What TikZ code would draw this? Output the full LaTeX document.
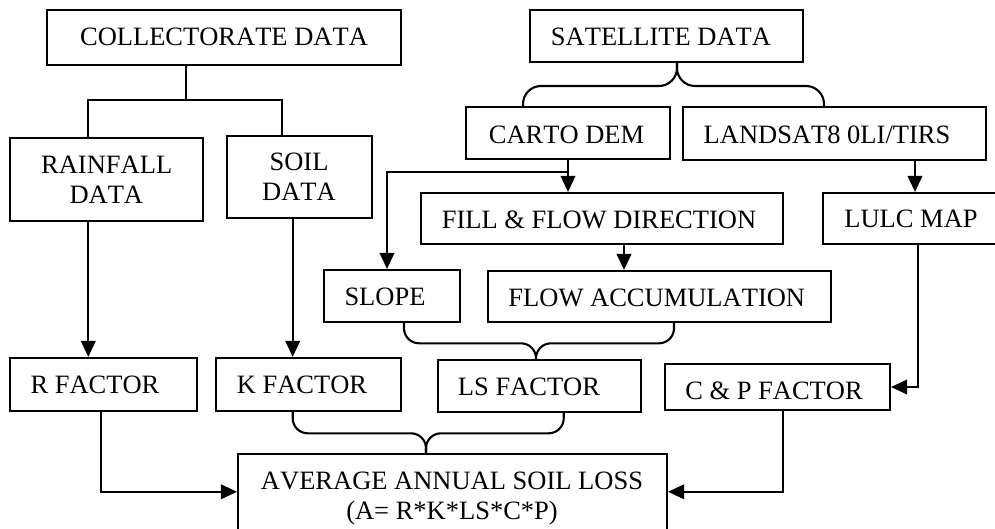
\documentclass[tikz,border=0pt]{standalone}
\usepackage{fontspec}
\setmainfont{Liberation Serif}[Kerning=Off]
\usetikzlibrary{arrows.meta,calc}

\begin{document}
\begin{tikzpicture}[x=1pt,y=-1pt,
  box/.style={draw, rectangle, inner sep=0pt, line width=2.1pt},
  lbl/.style={inner sep=0pt, anchor=base, font=\fontsize{26.5}{30}\selectfont},
  link/.style={line width=2.1pt},
  arr/.style={link, -{Triangle[length=16pt,width=14.5pt]}},
  brace/.style={link, rounded corners=15pt}]

\useasboundingbox (0,0) rectangle (995,529);

% ---------- boxes ----------
\node[box, minimum width=354pt, minimum height=55pt] (coll)  at (224,37.5) {};
\node[box, minimum width=193pt, minimum height=83pt] (rain)  at (106.5,179.5) {};
\node[box, minimum width=145pt, minimum height=82pt] (soil)  at (299.5,177) {};
\node[box, minimum width=273pt, minimum height=52pt] (sat)   at (666.5,36) {};
\node[box, minimum width=204pt, minimum height=52pt] (carto) at (568,133) {};
\node[box, minimum width=303pt, minimum height=53pt] (land)  at (834.5,133.5) {};
\node[box, minimum width=362pt, minimum height=51pt] (fill)  at (602,218.5) {};
\node[box, minimum width=177pt, minimum height=51pt] (lulc)  at (911.5,218.5) {};
\node[box, minimum width=136pt, minimum height=52pt] (slope) at (392,296) {};
\node[box, minimum width=343pt, minimum height=51pt] (flow)  at (659.5,296.5) {};
\node[box, minimum width=187pt, minimum height=53pt] (rfac)  at (103.5,384.5) {};
\node[box, minimum width=185pt, minimum height=53pt] (kfac)  at (308.5,384.5) {};
\node[box, minimum width=203pt, minimum height=52pt] (lsfac) at (539.5,386) {};
\node[box, minimum width=225pt, minimum height=46pt] (cpfac) at (777.5,387) {};
\node[box, minimum width=429pt, minimum height=106pt] (avg) at (452.5,507) {};

% ---------- labels ----------
\node[lbl] (collT)  at (224,46)     {COLLECTORATE DATA};
\node[lbl] (rainT)  at (106.7,173.3) {RAINFALL};
\node[lbl] (rainT2) at (106.3,204)   {DATA};
\node[lbl] (soilT)  at (299,171)     {SOIL};
\node[lbl] (soilT2) at (299,201)     {DATA};
\node[lbl] (satT)   at (661,46)      {SATELLITE DATA};
\node[lbl] (cartoT) at (566.5,143.3) {CARTO DEM};
\node[lbl] (landT)  at (827,143.3)   {LANDSAT8 0LI/TIRS};
\node[lbl] (fillT)  at (599,228.3)   {FILL \& FLOW DIRECTION};
\node[lbl] (lulcT)  at (911,227.7)   {LULC MAP};
\node[lbl] (slopeT) at (385,305.7)   {SLOPE};
\node[lbl] (flowT)  at (656.8,306)   {FLOW ACCUMULATION};
\node[lbl] (rfacT)  at (95,393.3)    {R FACTOR};
\node[lbl] (kfacT)  at (302,393.3)   {K FACTOR};
\node[lbl] (lsfacT) at (529,395.7)   {LS FACTOR};
\node[lbl] (cpfacT) at (774,399)     {C \& P FACTOR};
\node[lbl] (avgT)   at (452,489.3)   {AVERAGE ANNUAL SOIL LOSS};
\node[lbl] (avgT2)  at (452,519.3)   {(A= R*K*LS*C*P)};

% ---------- guide coordinates for connector lines ----------
\coordinate (j1)    at (186,100);
\coordinate (xRain) at (88.3,0);
\coordinate (xSoil) at (282,0);
\coordinate (xSoK)  at (292.7,0);
\coordinate (bSat)  at (677,86);
\coordinate (xCd)   at (523,0);
\coordinate (xLs)   at (824,0);
\coordinate (xSl)   at (387,0);
\coordinate (xLd)   at (915,0);
\coordinate (xFd)   at (624,0);
\coordinate (xLu)   at (918,0);
\coordinate (bLS)   at (536,343.3);
\coordinate (xSlB)  at (404,0);
\coordinate (xFlB)  at (674,0);
\coordinate (bAvg)  at (426,433.3);
\coordinate (xKB)   at (292.7,0);
\coordinate (xLsB)  at (563.7,0);
\coordinate (xRf)   at (100.7,0);
\coordinate (xCp)   at (783,0);
\coordinate (yIn)   at (0,491.8);

% ---------- collectorate tree ----------
\draw[link] (j1 |- coll.south) -- (j1);
\draw[link] (xRain |- rain.north) |- (j1) -| (xSoil |- soil.north);
\draw[arr] (xRain |- rain.south) -- (xRain |- rfac.north);
\draw[arr] (xSoK |- soil.south) -- (xSoK |- kfac.north);

% ---------- satellite brace ----------
\draw[brace, rounded corners=18pt] (xCd |- carto.north) |- (bSat) -- (bSat |- sat.south);
\draw[brace, rounded corners=18pt] (xLs |- land.north) |- (bSat) -- (bSat |- sat.south);

% ---------- DEM and Landsat branches ----------
\draw[arr] (carto.south) -- (carto.south |- fill.north);
\draw[arr] ($(carto.south)+(0,11.7)$) -| (xSl |- slope.north);
\draw[arr] (xLd |- land.south) -- (xLd |- lulc.north);
\draw[arr] (xFd |- fill.south) -- (xFd |- flow.north);
\draw[arr] (xLu |- lulc.south) |- (cpfac.east);

% ---------- slope + flow accumulation into LS ----------
\draw[brace] (xSlB |- slope.south) |- (bLS) -- (bLS |- lsfac.north);
\draw[brace] (xFlB |- flow.south) |- (bLS) -- (bLS |- lsfac.north);

% ---------- factors into soil loss ----------
\draw[brace] (xKB |- kfac.south) |- (bAvg) -- (bAvg |- avg.north);
\draw[brace] (xLsB |- lsfac.south) |- (bAvg) -- (bAvg |- avg.north);
\draw[arr] (xRf |- rfac.south) |- (avg.west |- yIn);
\draw[arr] (xCp |- cpfac.south) |- (avg.east |- yIn);

\end{tikzpicture}
\end{document}
